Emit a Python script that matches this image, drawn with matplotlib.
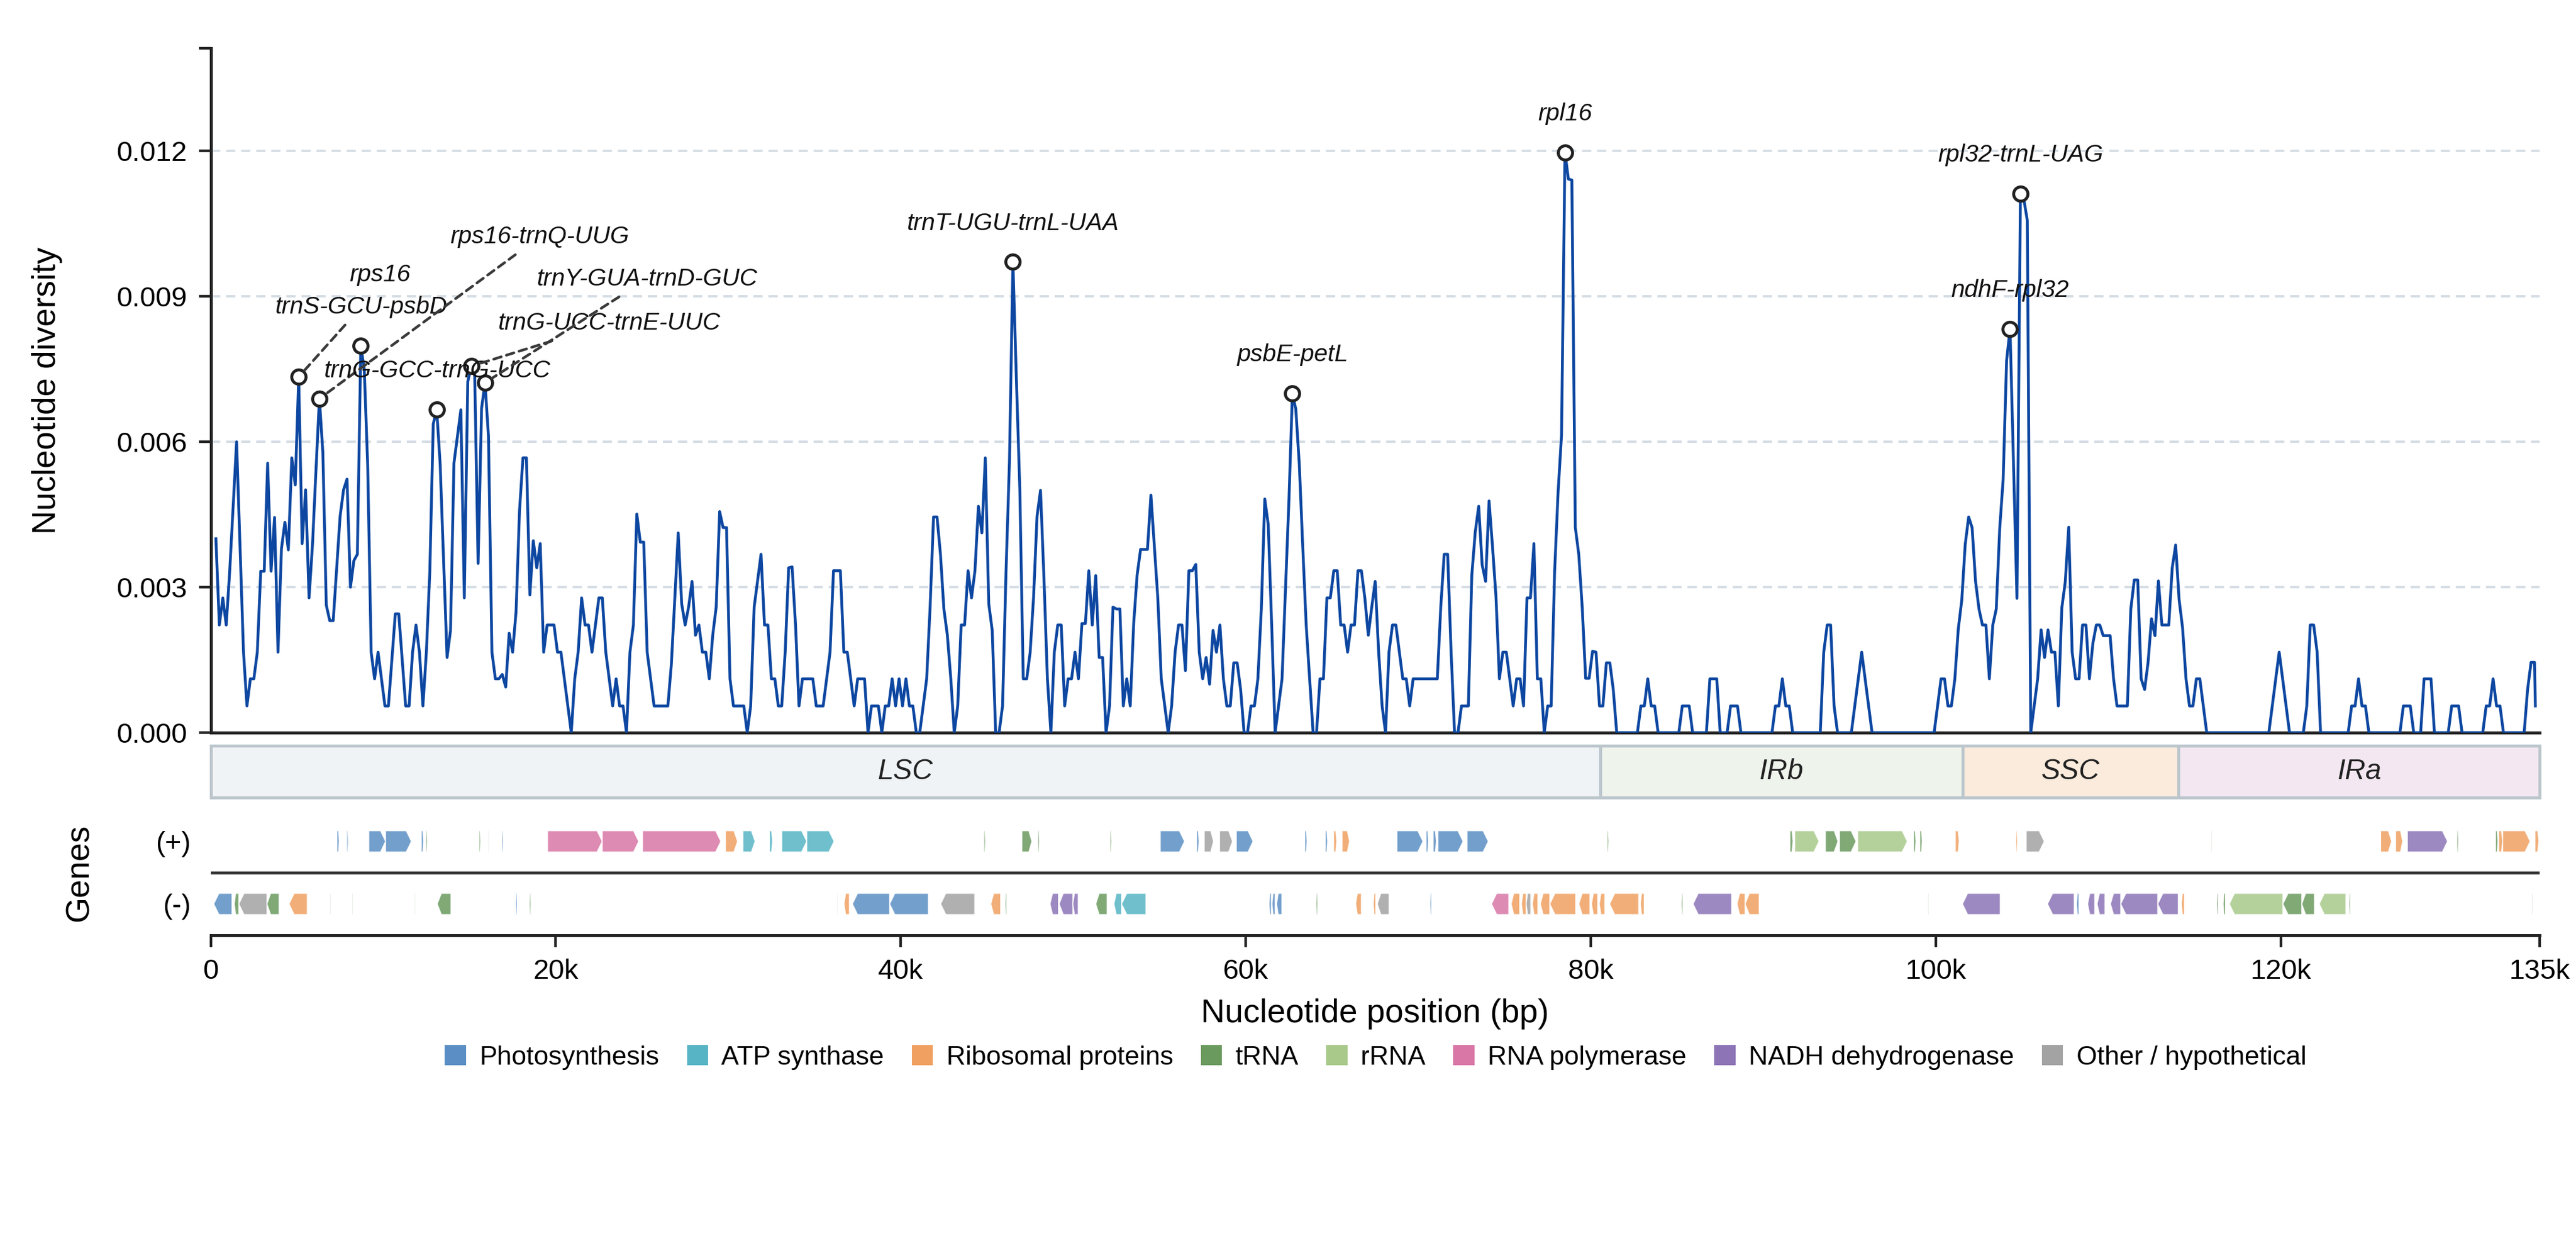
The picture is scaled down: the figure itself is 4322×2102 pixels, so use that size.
#!/usr/bin/env python3
"""
Sliding-window nucleotide diversity (Pi) along the plastome, with the
quadripartite regions and a two-strand gene map underneath.
"""

import matplotlib

matplotlib.use("Agg")
import matplotlib.pyplot as plt
from matplotlib.patches import Patch, Polygon, Rectangle

plt.rcParams["font.family"] = ["Liberation Sans", "DejaVu Sans"]

# --- Pi per window (window midpoint bp, Pi), split by region ---------------- #
pi_lsc = [
    (300, 0.00400), (500, 0.00222), (700, 0.00278), (900, 0.00222), (1100, 0.00333),
    (1500, 0.00600), (1900, 0.00166), (2100, 0.00055), (2300, 0.00111), (2500, 0.00111),
    (2700, 0.00166), (2900, 0.00333), (3100, 0.00333), (3300, 0.00556), (3500, 0.00333),
    (3700, 0.00444), (3900, 0.00166), (4100, 0.00379), (4300, 0.00434), (4500, 0.00377),
    (4700, 0.00567), (4900, 0.00511), (5100, 0.00734), (5300, 0.00390), (5500, 0.00501),
    (5700, 0.00278), (5900, 0.00388), (6100, 0.00540), (6300, 0.00689), (6500, 0.00578),
    (6700, 0.00263), (6900, 0.00231), (7100, 0.00231), (7500, 0.00446), (7700, 0.00501),
    (7900, 0.00523), (8100, 0.00300), (8300, 0.00355), (8500, 0.00368), (8700, 0.00798),
    (8900, 0.00750), (9100, 0.00550), (9300, 0.00166), (9500, 0.00111), (9700, 0.00166),
    (10100, 0.00055), (10300, 0.00055), (10700, 0.00245), (10900, 0.00245), (11300, 0.00055),
    (11500, 0.00055), (11700, 0.00166), (11900, 0.00222), (12100, 0.00166), (12300, 0.00055),
    (12500, 0.00166), (12700, 0.00332), (12900, 0.00637), (13100, 0.00666), (13300, 0.00554),
    (13500, 0.00355), (13700, 0.00155), (13900, 0.00211), (14100, 0.00556), (14500, 0.00666),
    (14700, 0.00278), (14900, 0.00724), (15100, 0.00756), (15300, 0.00743), (15500, 0.00349),
    (15700, 0.00669), (15900, 0.00722), (16100, 0.00612), (16300, 0.00166), (16500, 0.00111),
    (16700, 0.00111), (16900, 0.00120), (17100, 0.00094), (17300, 0.00205), (17500, 0.00166),
    (17700, 0.00250), (17900, 0.00458), (18100, 0.00567), (18300, 0.00567), (18500, 0.00284),
    (18700, 0.00396), (18900, 0.00340), (19100, 0.00390), (19300, 0.00166), (19500, 0.00222),
    (19900, 0.00222), (20100, 0.00166), (20300, 0.00166), (20900, 0.0), (21100, 0.00111),
    (21300, 0.00166), (21500, 0.00278), (21700, 0.00222), (21900, 0.00222), (22100, 0.00166),
    (22300, 0.00222), (22500, 0.00278), (22700, 0.00278), (22900, 0.00166), (23300, 0.00055),
    (23500, 0.00111), (23700, 0.00055), (23900, 0.00055), (24100, 0.0), (24300, 0.00166),
    (24500, 0.00222), (24700, 0.00451), (24900, 0.00393), (25100, 0.00393), (25300, 0.00166),
    (25700, 0.00055), (26500, 0.00055), (26700, 0.00140), (27100, 0.00412), (27300, 0.00266),
    (27500, 0.00222), (27700, 0.00259), (27900, 0.00312), (28100, 0.00201), (28300, 0.00222),
    (28500, 0.00166), (28700, 0.00166), (28900, 0.00111), (29100, 0.00201), (29300, 0.00259),
    (29500, 0.00456), (29700, 0.00423), (29900, 0.00423), (30100, 0.00111), (30300, 0.00055),
    (30900, 0.00055), (31100, 0.0), (31300, 0.00055), (31500, 0.00259), (31900, 0.00368),
    (32100, 0.00222), (32300, 0.00222), (32500, 0.00111), (32700, 0.00111), (32900, 0.00055),
    (33100, 0.00055), (33300, 0.00166), (33500, 0.00340), (33700, 0.00342), (33900, 0.00222),
    (34100, 0.00055), (34300, 0.00111), (34900, 0.00111), (35100, 0.00055), (35500, 0.00055),
    (35700, 0.00111), (35900, 0.00166), (36100, 0.00334), (36500, 0.00334), (36700, 0.00166),
    (36900, 0.00166), (37100, 0.00111), (37300, 0.00055), (37500, 0.00111), (37900, 0.00111),
    (38100, 0.0), (38300, 0.00055), (38700, 0.00055), (38900, 0.0), (39100, 0.00055),
    (39300, 0.00055), (39500, 0.00111), (39700, 0.00055), (39900, 0.00111), (40100, 0.00055),
    (40300, 0.00111), (40500, 0.00055), (40700, 0.00055), (40900, 0.0), (41100, 0.0),
    (41300, 0.00055), (41500, 0.00111), (41700, 0.00259), (41900, 0.00445), (42100, 0.00445),
    (42300, 0.00368), (42500, 0.00255), (42700, 0.00201), (42900, 0.00111), (43100, 0.0),
    (43300, 0.00055), (43500, 0.00222), (43700, 0.00222), (43900, 0.00334), (44100, 0.00278),
    (44300, 0.00334), (44500, 0.00467), (44700, 0.00412), (44900, 0.00567), (45100, 0.00266),
    (45300, 0.00211), (45500, 0.0), (45700, 0.0), (45900, 0.00055), (46100, 0.00332),
    (46300, 0.00560), (46500, 0.00971), (46700, 0.00730), (46900, 0.00502), (47100, 0.00111),
    (47300, 0.00111), (47500, 0.00166), (47700, 0.00281), (47900, 0.00447), (48100, 0.00500),
    (48300, 0.00318), (48500, 0.00111), (48700, 0.0), (48900, 0.00166), (49100, 0.00222),
    (49300, 0.00222), (49500, 0.00055), (49700, 0.00111), (49900, 0.00111), (50100, 0.00166),
    (50300, 0.00111), (50500, 0.00225), (50700, 0.00225), (50900, 0.00334), (51100, 0.00222),
    (51300, 0.00324), (51500, 0.00155), (51700, 0.00155), (51900, 0.0), (52100, 0.00055),
    (52300, 0.00259), (52500, 0.00255), (52700, 0.00255), (52900, 0.00055), (53100, 0.00111),
    (53300, 0.00055), (53500, 0.00225), (53700, 0.00325), (53900, 0.00378), (54300, 0.00378),
    (54500, 0.00490), (54700, 0.00384), (54900, 0.00277), (55100, 0.00111), (55300, 0.00055),
    (55500, 0.0), (55700, 0.00055), (55900, 0.00166), (56100, 0.00222), (56300, 0.00222),
    (56500, 0.00128), (56700, 0.00334), (56900, 0.00334), (57100, 0.00347), (57300, 0.00166),
    (57500, 0.00111), (57700, 0.00155), (57900, 0.00100), (58100, 0.00211), (58300, 0.00166),
    (58500, 0.00222), (58700, 0.00111), (58900, 0.00055), (59100, 0.00055), (59300, 0.00144),
    (59500, 0.00144), (59700, 0.00089), (59900, 0.0), (60100, 0.0), (60300, 0.00055),
    (60500, 0.00055), (60700, 0.00111), (60900, 0.00255), (61100, 0.00482), (61300, 0.00429),
    (61500, 0.00222), (61700, 0.0), (61900, 0.00055), (62100, 0.00111), (62300, 0.00296),
    (62500, 0.00480), (62700, 0.00700), (62900, 0.00667), (63100, 0.00554), (63300, 0.00384),
    (63500, 0.00222), (63700, 0.00111), (63900, 0.0), (64100, 0.0), (64300, 0.00111),
    (64500, 0.00111), (64700, 0.00278), (64900, 0.00278), (65100, 0.00334), (65300, 0.00334),
    (65500, 0.00222), (65700, 0.00222), (65900, 0.00166), (66100, 0.00222), (66300, 0.00222),
    (66500, 0.00334), (66700, 0.00334), (66900, 0.00278), (67100, 0.00201), (67300, 0.00259),
    (67500, 0.00312), (67700, 0.00166), (67900, 0.00055), (68100, 0.0), (68300, 0.00166),
    (68500, 0.00222), (68700, 0.00222), (68900, 0.00166), (69100, 0.00111), (69300, 0.00111),
    (69500, 0.00055), (69700, 0.00111), (71100, 0.00111), (71300, 0.00259), (71500, 0.00368),
    (71700, 0.00368), (71900, 0.00166), (72100, 0.0), (72300, 0.0), (72500, 0.00055),
    (72900, 0.00055), (73100, 0.00325), (73300, 0.00414), (73500, 0.00467), (73700, 0.00346),
    (73900, 0.00312), (74100, 0.00478), (74300, 0.00384), (74500, 0.00281), (74700, 0.00111),
    (74900, 0.00166), (75100, 0.00166), (75300, 0.00111), (75500, 0.00055), (75700, 0.00111),
    (75900, 0.00111), (76100, 0.00055), (76300, 0.00278), (76500, 0.00278), (76700, 0.00390),
    (76900, 0.00111), (77100, 0.00111), (77300, 0.0), (77500, 0.00055), (77700, 0.00055),
    (77900, 0.00332), (78100, 0.00495), (78300, 0.00613), (78500, 0.01197), (78700, 0.01142),
    (78900, 0.01140), (79100, 0.00423), (79300, 0.00368), (79500, 0.00259), (79700, 0.00112),
    (79900, 0.00112), (80100, 0.00168), (80300, 0.00166), (80500, 0.00055),
]
pi_irb = [
    (80700, 0.00055), (80900, 0.00144), (81100, 0.00144), (81300, 0.00089), (81500, 0.0),
    (82700, 0.0), (82900, 0.00055), (83100, 0.00055), (83300, 0.00111), (83500, 0.00055),
    (83700, 0.00055), (83900, 0.0), (85100, 0.0), (85300, 0.00055), (85700, 0.00055),
    (85900, 0.0), (86700, 0.0), (86900, 0.00111), (87300, 0.00111), (87500, 0.0),
    (87900, 0.0), (88100, 0.00055), (88500, 0.00055), (88700, 0.0), (90500, 0.0),
    (90700, 0.00055), (90900, 0.00055), (91100, 0.00111), (91300, 0.00055), (91500, 0.00055),
    (91700, 0.0), (93300, 0.0), (93500, 0.00166), (93700, 0.00222), (93900, 0.00222),
    (94100, 0.00055), (94300, 0.0), (95100, 0.0), (95300, 0.00055), (95500, 0.00111),
    (95700, 0.00166), (95900, 0.00111), (96100, 0.00055), (96300, 0.0), (99900, 0.0),
    (100100, 0.00055), (100300, 0.00111), (100500, 0.00111), (100700, 0.00055),
    (100900, 0.00055), (101100, 0.00111), (101300, 0.00214), (101500, 0.00273),
]
pi_ssc = [
    (101700, 0.00388), (101900, 0.00445), (102100, 0.00423), (102300, 0.00312),
    (102500, 0.00255), (102700, 0.00222), (102900, 0.00222), (103100, 0.00111),
    (103300, 0.00222), (103500, 0.00255), (103700, 0.00421), (103900, 0.00522),
    (104100, 0.00768), (104300, 0.00833), (104500, 0.00554), (104700, 0.00277),
    (104900, 0.01112), (105100, 0.01100), (105300, 0.01057), (105500, 0.0),
    (105700, 0.00055), (105900, 0.00111), (106100, 0.00212), (106300, 0.00155),
    (106500, 0.00212), (106700, 0.00166), (106900, 0.00166), (107100, 0.00055),
    (107300, 0.00257), (107500, 0.00311), (107700, 0.00424), (107900, 0.00166),
    (108100, 0.00111), (108300, 0.00111), (108500, 0.00222), (108700, 0.00222),
    (108900, 0.00111), (109100, 0.00184), (109300, 0.00222), (109500, 0.00222),
    (109700, 0.00200), (110100, 0.00200), (110300, 0.00111), (110500, 0.00055),
    (111100, 0.00055), (111300, 0.00255), (111500, 0.00315), (111700, 0.00315),
    (111900, 0.00111), (112100, 0.00089), (112300, 0.00145), (112500, 0.00235),
    (112700, 0.00200), (112900, 0.00313), (113100, 0.00222), (113500, 0.00222),
    (113700, 0.00340), (113900, 0.00387),
]
pi_ira = [
    (114100, 0.00274), (114300, 0.00216), (114500, 0.00111), (114700, 0.00055),
    (114900, 0.00055), (115100, 0.00111), (115300, 0.00111), (115500, 0.00055),
    (115700, 0.0), (119300, 0.0), (119900, 0.00166), (120100, 0.00111), (120300, 0.00055),
    (120500, 0.0), (121300, 0.0), (121500, 0.00055), (121700, 0.00222), (121900, 0.00222),
    (122100, 0.00166), (122300, 0.0), (123900, 0.0), (124100, 0.00055), (124300, 0.00055),
    (124500, 0.00111), (124700, 0.00055), (124900, 0.00055), (125100, 0.0), (126900, 0.0),
    (127100, 0.00055), (127500, 0.00055), (127700, 0.0), (128100, 0.0), (128300, 0.00111),
    (128700, 0.00111), (128900, 0.0), (129700, 0.0), (129900, 0.00055), (130300, 0.00055),
    (130500, 0.0), (131700, 0.0), (131900, 0.00055), (132100, 0.00055), (132300, 0.00111),
    (132500, 0.00055), (132700, 0.00055), (132900, 0.0), (134100, 0.0), (134300, 0.00089),
    (134500, 0.00145), (134700, 0.00145), (134750, 0.00055),
]

# --- Hotspots: label and window midpoint ------------------------------------ #
hotspot_names = ["trnS-GCU-psbD", "rps16-trnQ-UUG", "rps16", "trnG-GCC-trnG-UCC",
                 "trnG-UCC-trnE-UUC", "trnY-GUA-trnD-GUC", "trnT-UGU-trnL-UAA",
                 "psbE-petL", "rpl16", "ndhF-rpl32", "rpl32-trnL-UAG"]
hotspot_pos = [5100, 6300, 8700, 13100, 15100, 15900, 46500, 62700, 78500, 104300, 104900]

# Labels pushed away from the crowded LSC start (text centre, data coords)
moved_labels = {
    "trnS-GCU-psbD": (8720, 0.00878),
    "rps16-trnQ-UUG": (19075, 0.01023),
    "rps16": (9809, 0.00945),
    "trnG-GCC-trnG-UCC": (13108, 0.00747),
    "trnG-UCC-trnE-UUC": (23104, 0.00845),
    "trnY-GUA-trnD-GUC": (25294, 0.00936),
}
with_leader = ["trnS-GCU-psbD", "rps16-trnQ-UUG", "trnG-UCC-trnE-UUC", "trnY-GUA-trnD-GUC"]

# --- Plastome regions -------------------------------------------------------- #
region_names = ["LSC", "IRb", "SSC", "IRa"]
region_start = [0, 80540, 101540, 114050]
region_end = [80540, 101540, 114050, 135000]
region_colors = ["#eff3f6", "#eef3ec", "#fbebdc", "#f3e8f2"]
GENOME_LEN = 135000

# --- Gene map: start, end, strand, functional class ------------------------- #
genes_plus = [
    (7315, 7450, "ps"), (7888, 7975, "ps"), (9165, 10135, "ps"), (10135, 11633, "ps"),
    (12207, 12340, "ps"), (12470, 12560, "trna"), (15555, 15645, "trna"), (16085, 16130, "other"),
    (16880, 16966, "ps"), (19522, 22695, "rpo"), (22695, 24810, "rpo"), (25030, 29570, "rpo"),
    (29835, 30540, "rib"), (30850, 31555, "atp"), (32390, 32570, "atp"), (33100, 34550, "atp"),
    (34550, 36135, "atp"), (44820, 44910, "trna"), (47020, 47600, "trna"), (47950, 48040, "trna"),
    (52135, 52225, "trna"), (55040, 56450, "ps"), (57150, 57290, "ps"), (57590, 58130, "other"),
    (58480, 59230, "other"), (59450, 60420, "ps"), (63420, 63550, "ps"), (64610, 64740, "ps"),
    (65090, 65270, "rib"), (65580, 66015, "rib"), (68760, 70270, "ps"), (70450, 70590, "ps"),
    (70860, 71045, "ps"), (71135, 72595, "ps"), (72825, 74055, "ps"), (80950, 81040, "trna"),
    (91540, 91720, "trna"), (91815, 93230, "rrna"), (93595, 94325, "trna"), (94415, 95375, "trna"),
    (95465, 98345, "rrna"), (98710, 98845, "trna"), (99070, 99210, "trna"), (101125, 101355, "rib"),
    (104640, 104730, "rib"), (105235, 106285, "other"), (115965, 116010, "trna"),
    (125780, 126420, "rib"), (126650, 127060, "rib"), (127330, 129660, "ndh"),
    (130210, 130300, "trna"), (132440, 132580, "trna"), (132625, 132855, "rib"),
    (132855, 134450, "rib"), (134725, 134955, "rib"),
]
genes_minus = [
    (175, 1233, "ps"), (1365, 1630, "trna"), (1630, 3260, "other"), (3260, 3965, "trna"),
    (4538, 5596, "rib"), (6918, 6962, "trna"), (8196, 8240, "trna"), (11810, 11855, "trna"),
    (13130, 13925, "trna"), (17670, 17760, "ps"), (18465, 18550, "trna"), (36310, 36350, "trna"),
    (36710, 37020, "rib"), (37195, 39355, "ps"), (39355, 41600, "ps"), (42310, 44290, "other"),
    (45215, 45790, "rib"), (46050, 46140, "trna"), (48650, 49140, "ndh"), (49180, 49975, "ndh"),
    (49975, 50285, "ndh"), (51300, 51960, "trna"), (52355, 52800, "atp"), (52800, 54210, "atp"),
    (61345, 61480, "ps"), (61520, 61700, "ps"), (61785, 62090, "ps"), (64075, 64165, "trna"),
    (66365, 66700, "rib"), (67390, 67530, "rib"), (67620, 68305, "other"), (70680, 70770, "ps"),
    (74240, 75245, "rpo"), (75380, 75880, "rib"), (75975, 76250, "rib"), (76250, 76520, "other"),
    (76610, 76930, "rib"), (77070, 77620, "rib"), (77620, 79125, "rib"), (79305, 79945, "rib"),
    (80035, 80400, "rib"), (80490, 80810, "rib"), (81085, 82775, "rib"), (82870, 83095, "rib"),
    (85240, 85330, "trna"), (85925, 88160, "ndh"), (88480, 88940, "rib"), (88940, 89760, "rib"),
    (99530, 99580, "trna"), (101540, 103730, "ndh"), (106470, 108020, "ndh"),
    (108155, 108295, "ps"), (108795, 109210, "ndh"), (109345, 109800, "ndh"),
    (110120, 110715, "ndh"), (110715, 112860, "ndh"), (112860, 114050, "ndh"),
    (114230, 114410, "rib"), (116280, 116375, "trna"), (116650, 116785, "trna"),
    (117010, 120115, "rrna"), (120115, 121210, "trna"), (121210, 121945, "trna"),
    (122220, 123770, "rrna"), (123950, 124040, "trna"), (134545, 134600, "trna"),
]

CLASS_ORDER = ["ps", "atp", "rib", "trna", "rrna", "rpo", "ndh", "other"]
CLASS_LABELS = {
    "ps": "Photosynthesis", "atp": "ATP synthase", "rib": "Ribosomal proteins",
    "trna": "tRNA", "rrna": "rRNA", "rpo": "RNA polymerase",
    "ndh": "NADH dehydrogenase", "other": "Other / hypothetical",
}
CLASS_COLORS = {
    "ps": "#5b8ec4", "atp": "#56b4c5", "rib": "#f0a060", "trna": "#6a9a5e",
    "rrna": "#a8c98a", "rpo": "#d977a6", "ndh": "#8c74b6", "other": "#a3a3a3",
}
LINE_COLOR = "#0d47a1"


def gene_shape(start, end, strand, yc, h=0.34):
    """Box with a pointed end in the direction of transcription."""
    head = min(0.3 * (end - start), 300)
    y0, y1 = yc - h / 2, yc + h / 2
    if strand > 0:
        pts = [(start, y0), (end - head, y0), (end, yc), (end - head, y1), (start, y1)]
    else:
        pts = [(end, y0), (start + head, y0), (start, yc), (start + head, y1), (end, y1)]
    return pts


# ---------------------------------------------------------------------------- #
windows = pi_lsc + pi_irb + pi_ssc + pi_ira
pos = [p for p, _ in windows]
pi = [v for _, v in windows]
pi_at = dict(windows)

fig = plt.figure(figsize=(10.805, 5.255))
L, R = 0.0818, 0.9859
ax = fig.add_axes([L, 0.4153, R - L, 0.9617 - 0.4153])
ax_reg = fig.add_axes([L, 0.3635, R - L, 0.0414])
ax_gen = fig.add_axes([L, 0.2536, R - L, 0.0999])

# Diversity profile
ax.plot(pos, pi, color=LINE_COLOR, lw=0.85, zorder=3)
hx = hotspot_pos
hy = [pi_at[p] for p in hotspot_pos]
ax.plot(hx, hy, "o", ms=4.3, mfc="white", mec="#222222", mew=0.9, zorder=5)

for name, x, y in zip(hotspot_names, hx, hy):
    if name in moved_labels:
        tx, ty = moved_labels[name]
        arrow = None
        if name in with_leader:
            arrow = dict(arrowstyle="-", color="#3a3a3a", lw=0.8, linestyle=(0, (3, 2)),
                         shrinkA=0, shrinkB=2.5)
        ax.annotate(name, (x, y), xytext=(tx, ty), textcoords="data", ha="center",
                    va="center", fontsize=7.4, fontstyle="italic", color="#111111",
                    arrowprops=arrow, zorder=6)
    else:
        ax.annotate(name, (x, y), xytext=(0, 11.6), textcoords="offset points",
                    ha="center", va="center", fontsize=7.4, fontstyle="italic",
                    color="#111111", zorder=6)

ymax = max(pi) * 1.18
ax.set_xlim(0, GENOME_LEN)
ax.set_ylim(0, ymax)
ax.set_yticks([0, 0.003, 0.006, 0.009, 0.012])
ax.set_yticklabels([f"{t:.3f}" for t in [0, 0.003, 0.006, 0.009, 0.012]], fontsize=8.5)
ax.set_yticks([ymax], minor=True)
ax.tick_params(axis="y", which="both", length=3.6, width=0.8, color="#222222", pad=3.5)
ax.tick_params(axis="x", bottom=False, labelbottom=False)
ax.set_ylabel("Nucleotide diversity", fontsize=10)
ax.yaxis.set_label_coords(-0.0636, 0.5)
ax.yaxis.grid(True, color="#d5dde4", linestyle=(0, (4, 2.5)), lw=0.7, zorder=0)
ax.set_axisbelow(True)
ax.spines[["top", "right"]].set_visible(False)
ax.spines[["left", "bottom"]].set_color("#222222")
ax.spines[["left", "bottom"]].set_linewidth(0.9)

# Region bar
for name, s, e, c in zip(region_names, region_start, region_end, region_colors):
    ax_reg.add_patch(Rectangle((s, 0), e - s, 1, facecolor=c, edgecolor="#bcc6cd",
                               lw=0.9, clip_on=False))
    ax_reg.text((s + e) / 2, 0.5, name, ha="center", va="center", fontsize=8.6,
                fontstyle="italic", color="#222222")
ax_reg.set_xlim(0, GENOME_LEN)
ax_reg.set_ylim(0, 1)
ax_reg.axis("off")

# Gene map
for strand, genes, yc in [(1, genes_plus, 0.5), (-1, genes_minus, -0.5)]:
    for s, e, cls in genes:
        ax_gen.add_patch(Polygon(gene_shape(s, e, strand, yc), closed=True,
                                 facecolor=CLASS_COLORS[cls], alpha=0.85,
                                 edgecolor="white", lw=0.3))
ax_gen.axhline(0, color="#333333", lw=0.9)
ax_gen.set_xlim(0, GENOME_LEN)
ax_gen.set_ylim(-1, 1)
ax_gen.set_yticks([0.5, -0.5])
ax_gen.set_yticklabels(["(+)", "(-)"], fontsize=8.5)
ax_gen.tick_params(axis="y", length=0, pad=6)
ax_gen.set_ylabel("Genes", fontsize=10)
ax_gen.yaxis.set_label_coords(-0.0496, 0.5)
xt = [0, 20000, 40000, 60000, 80000, 100000, 120000, 135000]
ax_gen.set_xticks(xt)
ax_gen.set_xticklabels(["0" if t == 0 else f"{t // 1000}k" for t in xt], fontsize=8.5)
ax_gen.tick_params(axis="x", length=3.6, width=0.8, color="#222222", pad=3.5)
ax_gen.set_xlabel("Nucleotide position (bp)", fontsize=10, labelpad=4)
ax_gen.spines[["top", "right", "left"]].set_visible(False)
ax_gen.spines["bottom"].set_color("#222222")
ax_gen.spines["bottom"].set_linewidth(0.9)

handles = [Patch(facecolor=CLASS_COLORS[c], label=CLASS_LABELS[c]) for c in CLASS_ORDER]
fig.legend(handles=handles, loc="center", bbox_to_anchor=(0.534, 0.156), ncol=8,
           frameon=False, fontsize=8, handlelength=0.8, handleheight=0.8,
           handletextpad=0.5, columnspacing=1.05)

fig.savefig("out.png", dpi=400)
plt.close(fig)
